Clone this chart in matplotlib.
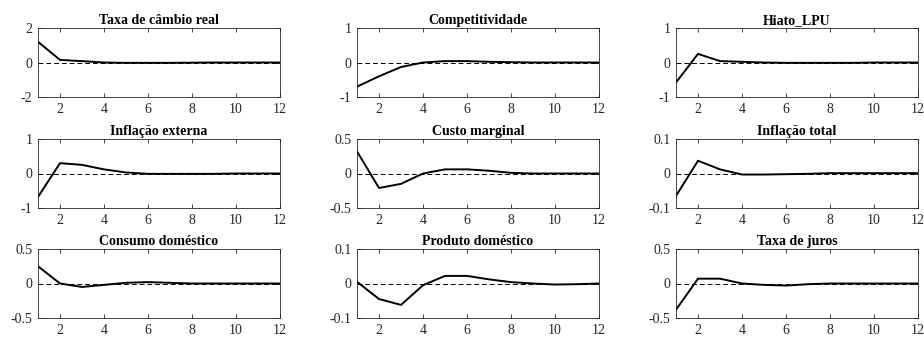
import numpy as np
import matplotlib.pyplot as plt

plt.rcParams['font.family'] = ['Liberation Serif', 'DejaVu Serif']
plt.rcParams['font.size'] = 10

# respostas ao impulso, horizonte 1..12
periodos = np.arange(1, 13)

titulos = [
    "Taxa de câmbio real", "Competitividade", "Hiato_LPU",
    "Inflação externa", "Custo marginal", "Inflação total",
    "Consumo doméstico", "Produto doméstico", "Taxa de juros",
]

cambio_real = [1.2, 0.15, 0.08, 0.0, -0.02, -0.02, -0.02, -0.01, 0.0, 0.0, 0.0, 0.0]
competitividade = [-0.7, -0.4, -0.13, 0.0, 0.04, 0.04, 0.02, 0.01, 0.0, 0.0, 0.0, 0.0]
hiato_lpu = [-0.58, 0.25, 0.04, 0.02, 0.0, -0.01, -0.01, -0.01, -0.01, 0.0, 0.0, 0.0]
inflacao_externa = [-0.68, 0.3, 0.25, 0.12, 0.03, -0.01, -0.01, -0.01, -0.01, 0.0, 0.0, 0.0]
custo_marginal = [0.32, -0.21, -0.15, 0.0, 0.06, 0.06, 0.04, 0.01, 0.0, 0.0, 0.0, 0.0]
inflacao_total = [-0.065, 0.037, 0.012, -0.003, -0.003, -0.002, -0.001, 0.001, 0.001, 0.001, 0.001, 0.001]
consumo = [0.25, 0.0, -0.05, -0.02, 0.01, 0.02, 0.01, 0.0, 0.0, 0.0, 0.0, 0.0]
produto = [0.005, -0.045, -0.062, -0.005, 0.022, 0.022, 0.012, 0.004, 0.0, -0.003, -0.002, 0.0]
juros = [-0.38, 0.07, 0.07, 0.0, -0.02, -0.03, -0.01, 0.0, 0.0, 0.0, 0.0, 0.0]

series = [cambio_real, competitividade, hiato_lpu,
          inflacao_externa, custo_marginal, inflacao_total,
          consumo, produto, juros]

limites = [2, 1, 1, 1, 0.5, 0.1, 0.5, 0.1, 0.5]

cinza = '#262626'

fig = plt.figure(figsize=(9.24, 3.38), dpi=100)
W, H = 924.0, 338.0
esq = [38, 357, 676]
topo = [28, 139, 249]
larg, alt = 242, 69

for i, (tit, y, lim) in enumerate(zip(titulos, series, limites)):
    lin, col = divmod(i, 3)
    ax = fig.add_axes([esq[col] / W, 1 - (topo[lin] + alt) / H, larg / W, alt / H])
    ax.plot(periodos, np.zeros_like(periodos), 'k--', lw=0.7, dashes=(5, 3))
    ax.plot(periodos, y, color='k', lw=1.4)
    ax.set_xlim(1, 12)
    ax.set_ylim(-lim, lim)
    ax.set_xticks([2, 4, 6, 8, 10, 12])
    ax.set_yticks([-lim, 0, lim])
    ax.set_yticklabels([f"{v:g}" for v in (-lim, 0, lim)])
    ax.tick_params(direction='in', top=True, right=True, length=3, width=0.6,
                   colors=cinza, labelsize=10, pad=4)
    for s in ax.spines.values():
        s.set_color(cinza)
        s.set_linewidth(0.6)
    ax.set_title(tit, fontweight='bold', fontsize=10, pad=3)

fig.savefig('out.png', dpi=100)
